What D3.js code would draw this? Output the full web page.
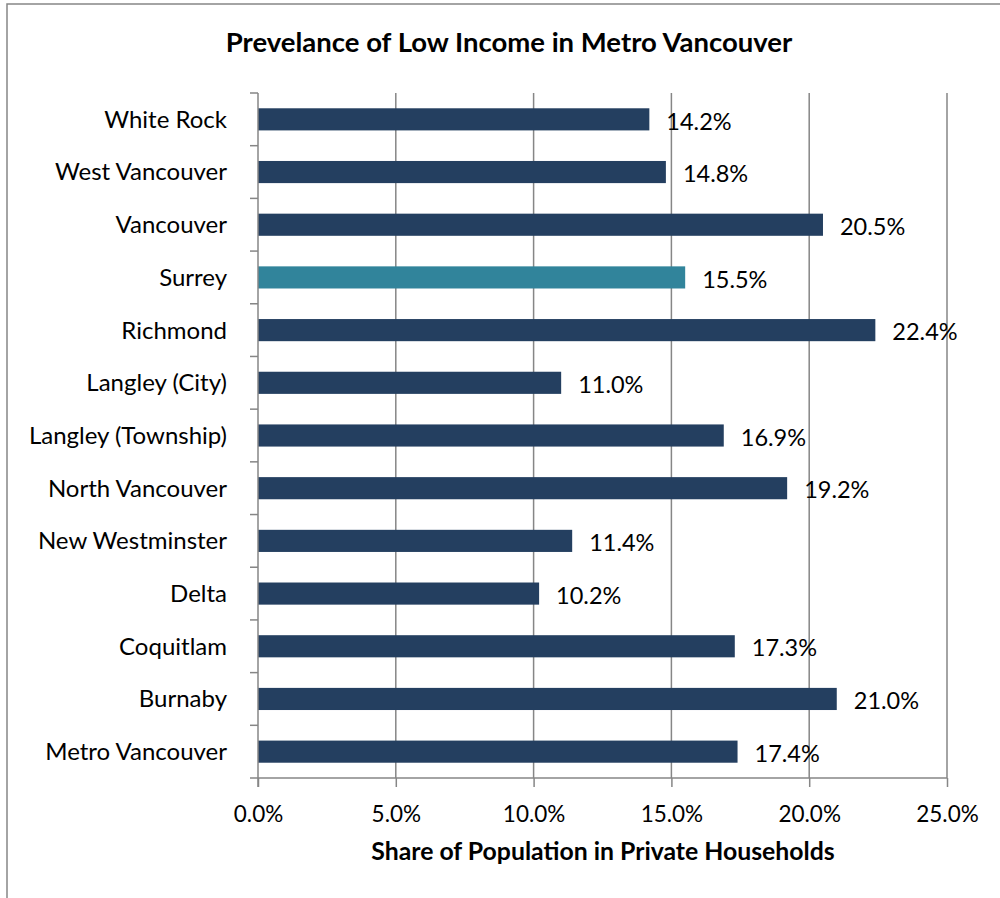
<!DOCTYPE html>
<html><head><meta charset="utf-8">
<script src="https://cdn.jsdelivr.net/npm/d3@7"></script>
<style>body{margin:0;background:#fff;}svg{display:block;font-family:Lato,"Open Sans",sans-serif;}</style>
</head><body>
<svg id="c" width="1000" height="898"></svg>
<script>
const categories = ["White Rock","West Vancouver","Vancouver","Surrey","Richmond","Langley (City)","Langley (Township)","North Vancouver","New Westminster","Delta","Coquitlam","Burnaby","Metro Vancouver"];
const values = [14.2,14.8,20.5,15.5,22.4,11.0,16.9,19.2,11.4,10.2,17.3,21.0,17.4];
const highlight = ["Surrey"];
const xTicks = [0,5,10,15,20,25];
const title = "Prevelance of Low Income in Metro Vancouver";
const xTitle = "Share of Population in Private Households";

const svg = d3.select("#c");
const m = {l:258, r:947, t:93, b:778};
svg.append("rect").attr("x",7).attr("y",4).attr("width",1100).attr("height",1000)
  .attr("fill","none").attr("stroke","#868686").attr("stroke-width",1.5);

const x = d3.scaleLinear().domain([0,25]).range([m.l,m.r]);
const y = d3.scaleBand().domain(categories).range([m.t,m.b]).paddingInner(0.58).paddingOuter(0.29);
const yb = d3.scaleBand().domain(categories).range([m.t,m.b]);

// gridlines
svg.append("g").selectAll("line").data(xTicks.slice(1)).join("line")
  .attr("x1",d=>x(d)).attr("x2",d=>x(d)).attr("y1",m.t).attr("y2",m.b)
  .attr("stroke","#868686").attr("stroke-width",1.5);

// bars
svg.append("g").selectAll("rect").data(categories).join("rect")
  .attr("x",x(0)).attr("y",d=>y(d)).attr("height",y.bandwidth())
  .attr("width",(d,i)=>x(values[i])-x(0))
  .attr("fill",d=>highlight.includes(d)?"#31849B":"#243F60");

// x axis
const xa = svg.append("g").attr("transform",`translate(0,${m.b})`)
  .call(d3.axisBottom(x).tickValues(xTicks).tickSize(9).tickSizeOuter(0).tickFormat(d=>d.toFixed(1)+"%"));
xa.select(".domain").attr("stroke","#868686").attr("stroke-width",1.5).attr("d",`M${m.l-8},0H${m.r}`);
xa.selectAll(".tick line").attr("stroke","#868686").attr("stroke-width",1.5);
xa.selectAll(".tick text").attr("font-size",22.5).attr("fill","#000").attr("font-family","Lato").attr("dy","0").attr("y",44);

// y axis
const ya = svg.append("g").attr("transform",`translate(${m.l},0)`);
ya.append("line").attr("x1",0).attr("x2",0).attr("y1",m.t).attr("y2",m.b+9).attr("stroke","#868686").attr("stroke-width",1.5);
ya.selectAll("line.t").data(categories).join("line").attr("class","t")
  .attr("x1",-8).attr("x2",0).attr("y1",d=>yb(d)).attr("y2",d=>yb(d))
  .attr("stroke","#868686").attr("stroke-width",1.5);
ya.selectAll("text").data(categories).join("text")
  .attr("x",-31).attr("y",d=>yb(d)+yb.bandwidth()/2).attr("dy","0.35em")
  .attr("text-anchor","end").attr("font-size",24).attr("fill","#000").text(d=>d);

// value labels
svg.append("g").selectAll("text").data(categories).join("text")
  .attr("x",(d,i)=>x(values[i])+17).attr("y",d=>yb(d)+yb.bandwidth()/2+2).attr("dy","0.35em")
  .attr("font-size",23.5).attr("fill","#000").text((d,i)=>values[i].toFixed(1)+"%");

svg.append("text").attr("x",509).attr("y",52).attr("text-anchor","middle")
  .attr("font-size",27.5).attr("font-weight","bold").text(title);
svg.append("text").attr("x",603).attr("y",860).attr("text-anchor","middle")
  .attr("font-size",24.8).attr("font-weight","bold").text(xTitle);
</script>
</body></html>
